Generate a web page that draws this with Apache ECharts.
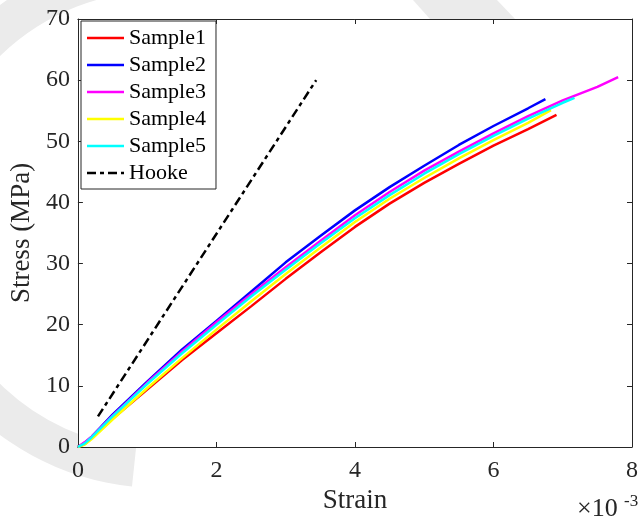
<!DOCTYPE html>
<html><head><meta charset="utf-8">
<script src="https://cdn.jsdelivr.net/npm/echarts@6/dist/echarts.min.js"></script>
<style>html,body{margin:0;padding:0;background:#fff}#c{width:641px;height:520px}</style>
</head><body><div id="c"></div>
<script>
// strain values are in units of 1e-3
var s1Strain = [0,0.1,0.2,0.5,1.0,1.5,2.0,2.5,3.0,3.5,4.0,4.5,5.0,5.5,6.0,6.5,6.91];
var s1Stress = [0,0.5,1.5,4.6,9.4,14.2,18.6,23.0,27.5,31.8,36.0,39.8,43.2,46.3,49.3,52.0,54.3];
var s2Strain = [0,0.1,0.2,0.5,1.0,1.5,2.0,2.5,3.0,3.5,4.0,4.5,5.0,5.5,6.0,6.5,6.75];
var s2Stress = [0,0.7,1.7,5.3,10.7,15.9,20.6,25.4,30.2,34.5,38.7,42.5,46.0,49.4,52.5,55.4,56.9];
var s3Strain = [0,0.1,0.2,0.5,1.0,1.5,2.0,2.5,3.0,3.5,4.0,4.5,5.0,5.5,6.0,6.5,7.0,7.5,7.8];
var s3Stress = [0,0.8,1.7,5.1,10.5,15.6,20.4,25.0,29.4,33.7,37.9,41.7,45.2,48.3,51.3,54.1,56.7,58.9,60.5];
var s4Strain = [0,0.1,0.2,0.5,1.0,1.5,2.0,2.5,3.0,3.5,4.0,4.5,5.0,5.5,6.0,6.5,6.83];
var s4Stress = [0,0.4,1.3,4.5,9.6,14.5,19.2,23.8,28.3,32.6,36.8,40.6,44.0,47.2,50.2,53.0,55.1];
var s5Strain = [0,0.1,0.2,0.5,1.0,1.5,2.0,2.5,3.0,3.5,4.0,4.5,5.0,5.5,6.0,6.5,7.0,7.17];
var s5Stress = [0,0.6,1.6,5.0,10.3,15.3,20.0,24.6,29.0,33.3,37.4,41.2,44.7,47.9,50.9,53.7,56.3,57.1];
var hookeStrain = [0.29, 3.44];
var hookeStress = [5, 60];
var seriesNames = ['Sample1','Sample2','Sample3','Sample4','Sample5','Hooke'];
var xTicks = [0,2,4,6,8];
var yTicks = [0,10,20,30,40,50,60,70];

function pairs(xs, ys){ return xs.map(function(x,i){ return [x, ys[i]]; }); }

var FONT = 'Liberation Serif';
var AX = '#262626';
var colors = ['#ff0000','#0000ff','#ff00ff','#ffff00','#00ffff','#000000'];
var datas = [pairs(s1Strain,s1Stress),pairs(s2Strain,s2Stress),pairs(s3Strain,s3Stress),
             pairs(s4Strain,s4Stress),pairs(s5Strain,s5Stress),pairs(hookeStrain,hookeStress)];

var solidIcon = 'path://M0,0H37V2.5H0Z';
var dashIcon = 'path://M0,0H9V2.5H0Z M13,0H17V2.5H13Z M21,0H30V2.5H21Z M34,0H37V2.5H34Z';

var series = seriesNames.map(function(n,i){
  return {
    name: n, type: 'line', data: datas[i], symbol: 'none', showSymbol: false,
    animation: false, xAxisIndex: 0, yAxisIndex: 0,
    itemStyle: {color: colors[i]},
    lineStyle: {color: colors[i], width: 2.5, type: i===5 ? [9,4,4,4] : 'solid'}
  };
});

function axisCommon(){
  return {
    axisLine: {show: true, onZero: false, lineStyle: {color: AX, width: 1}},
    axisTick: {show: true, inside: true, length: 5, lineStyle: {color: AX}},
    splitLine: {show: false}
  };
}

var chart = echarts.init(document.getElementById('c'));
chart.setOption({
  backgroundColor: '#ffffff',
  animation: false,
  grid: {left: 76, right: 2, top: 19, bottom: 73, show: true, backgroundColor: '#ffffff', borderWidth: 0},
  graphic: [
    {type: 'sector', z: -10, silent: true,
     shape: {cx: 160, cy: 220, r: 268, r0: 229, startAngle: 96*Math.PI/180, endAngle: 260*Math.PI/180, clockwise: true},
     style: {fill: '#ebebeb'}},
    {type: 'polygon', z: -10, silent: true,
     shape: {points: [[413,0],[497,0],[515,19],[430,19]]}, style: {fill: '#ebebeb'}},
    {type: 'text', x: 577, y: 496, z: 10, style: {text: '×10', font: '26px "Liberation Serif"', fill: AX}},
    {type: 'text', x: 624, y: 493, z: 10, style: {text: '-3', font: '17px "Liberation Serif"', fill: AX}}
  ],
  legend: {
    data: seriesNames.map(function(n,i){ return {name: n, icon: i===5 ? dashIcon : solidIcon}; }),
    orient: 'vertical', left: 81, top: 21,
    itemWidth: 37, itemHeight: 14, itemGap: 5,
    padding: [6, 10, 5, 6],
    backgroundColor: '#ffffff', borderColor: AX, borderWidth: 1,
    textStyle: {fontFamily: FONT, fontSize: 22, color: '#000', lineHeight: 22}
  },
  xAxis: [
    Object.assign(axisCommon(), {
      type: 'value', position: 'bottom', min: 0, max: 8, interval: 2,
      axisLabel: {fontFamily: FONT, fontSize: 24, color: AX, margin: 12,
        formatter: function(v){ return xTicks.indexOf(v) >= 0 ? String(v) : ''; }},
      name: 'Strain', nameLocation: 'middle', nameGap: 39,
      nameTextStyle: {fontFamily: FONT, fontSize: 27, color: AX}
    }),
    Object.assign(axisCommon(), {
      type: 'value', position: 'top', min: 0, max: 8, interval: 2,
      axisLabel: {show: false}
    })
  ],
  yAxis: [
    Object.assign(axisCommon(), {
      type: 'value', position: 'left', min: 0, max: 70, interval: 10,
      axisLabel: {fontFamily: FONT, fontSize: 24, color: AX, margin: 8,
        formatter: function(v){ return yTicks.indexOf(v) >= 0 ? String(v) : ''; }},
      name: 'Stress (MPa)', nameLocation: 'middle', nameGap: 40,
      nameTextStyle: {fontFamily: FONT, fontSize: 27, color: AX}
    }),
    Object.assign(axisCommon(), {
      type: 'value', position: 'right', min: 0, max: 70, interval: 10,
      axisLabel: {show: false}
    })
  ],
  series: series
});
</script></body></html>
